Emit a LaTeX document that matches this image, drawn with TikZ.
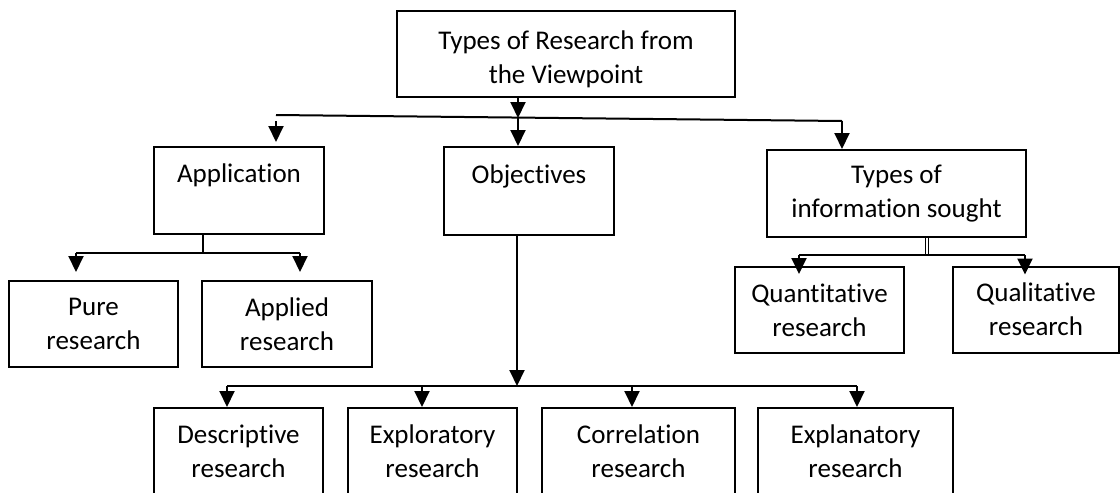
\documentclass[tikz,border=0pt]{standalone}
\usepackage{fontspec}
\setmainfont{Carlito}[Ligatures=NoCommon]
\usetikzlibrary{arrows.meta}

\begin{document}
\begin{tikzpicture}[x=0.5pt,y=-0.5pt,line width=1pt,
  resbox/.style={draw,rectangle,align=center,inner sep=0pt,font=\fontsize{13.5}{17}\selectfont},
  arr/.style={-{Triangle[width=7.5pt,length=8pt]}}]
%\draw[help lines] (0,0) grid (1120,493);
\useasboundingbox (0,0) rectangle (1120,493);
\clip (0,0) rectangle (1120,493);

\node[resbox,minimum width=169pt,minimum height=43pt] (top) at (566,54) {\rule{0pt}{15pt}Types of Research from\\the Viewpoint};
\node[resbox,minimum width=85pt,minimum height=43.5pt] (app) at (239,190.5) {Application\\~};
\node[resbox,minimum width=85pt,minimum height=44pt] (obj) at (529,191) {Objectives\\~};
\node[resbox,minimum width=129.5pt,minimum height=43.5pt] (info) at (896.5,193.5) {Types of\\information sought};
\node[resbox,minimum width=84.5pt,minimum height=43pt] (pure) at (93.5,324) {Pure\\research};
\node[resbox,minimum width=85pt,minimum height=43pt] (applied) at (287,324) {Applied\\research};
\node[resbox,minimum width=84.5pt,minimum height=43pt] (quant) at (819.5,310) {Quantitative\\research};
\node[resbox,minimum width=83pt,minimum height=43pt] (qual) at (1036,309.5) {Qualitative\\research};
\foreach \n/\x/\w/\t in {desc/238.5/84.5/Descriptive, expl/432.5/84.5/Exploratory, corr/638.5/96.5/Correlation, expn/855.5/97.5/Explanatory}
  \node[resbox,minimum width=\w pt,minimum height=43.5pt] (\n) at (\x,451.5) {\t\\research};

% first level
\coordinate (lineL) at (276,115);
\coordinate (lineR) at (842,121);
\coordinate (hub) at (518,118);
\draw (lineL) -- (lineR);
\draw[arr] (top.south -| hub) -- (hub);
\draw[arr] (hub) -- (obj.north -| hub);
\draw[arr] ([yshift=-3pt]lineL) -- ([yshift=2pt]app.north -| lineL);
\draw[arr] (lineR) -- (info.north -| lineR);

% application
\coordinate (appj) at (203,253);
\coordinate (appL) at (76,253);
\coordinate (appR) at (300,253);
\draw (app.south -| appj) -- (appj);
\draw (appL) -- (appR);
\draw[arr] (appL) -- ([yshift=4pt]pure.north -| appL);
\draw[arr] (appR) -- ([yshift=4pt]applied.north -| appR);

% information sought
\coordinate (infoj) at (927,255);
\coordinate (infoL) at (799,255);
\coordinate (infoR) at (1025,255);
\draw[double,double distance=0.6pt,line width=0.6pt] (info.south -| infoj) -- (infoj);
\draw (infoL) -- (infoR);
\draw[arr] (infoL) -- ([yshift=-4pt]quant.north -| infoL);
\draw[arr] (infoR) -- ([yshift=-4.5pt]qual.north -| infoR);

% objectives
\coordinate (objj) at (517,386);
\coordinate (objL) at (227,386);
\coordinate (objR) at (857,386);
\draw[arr] (obj.south -| objj) -- (objj);
\draw (objL) -- (objR);
\foreach \n/\x in {desc/227, expl/422, corr/632, expn/857}{
  \coordinate (\n j) at (\x,386);
  \draw[arr] (\n j) -- (\n.north -| \n j);
}
\end{tikzpicture}
\end{document}
